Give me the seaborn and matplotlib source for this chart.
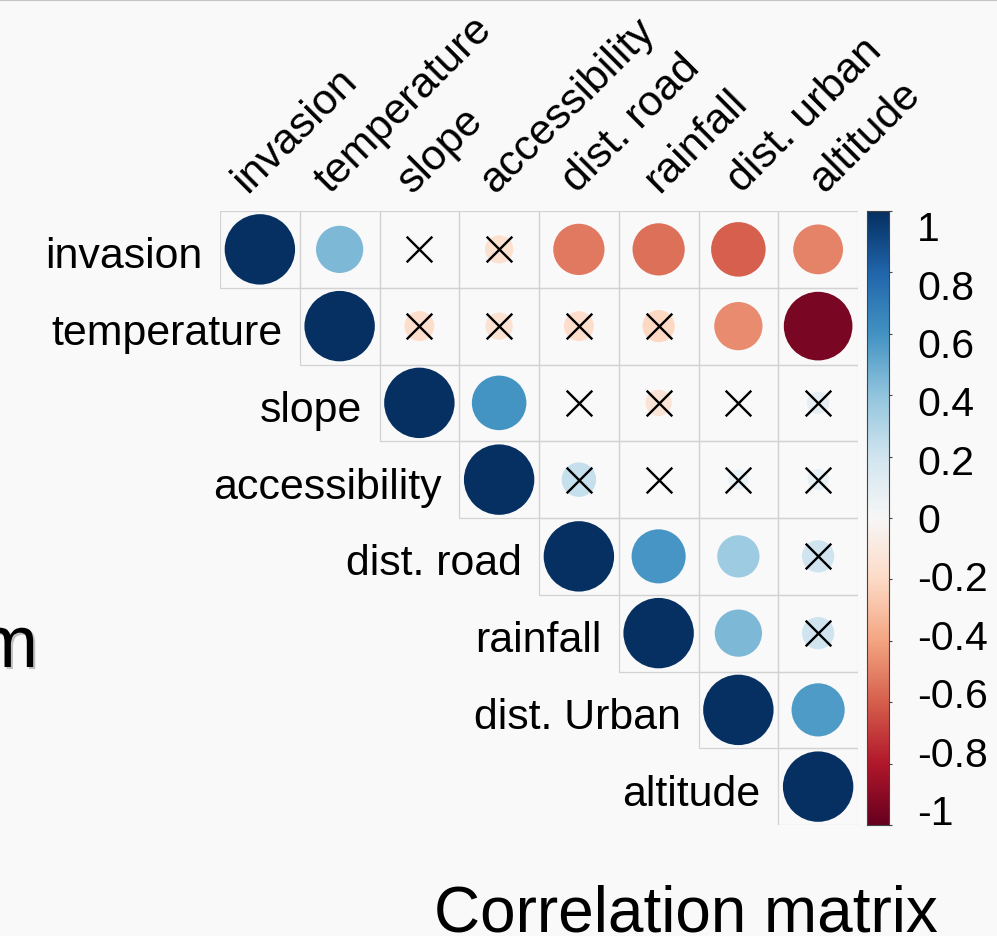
import numpy as np
import pandas as pd
import matplotlib
matplotlib.use("Agg")
import matplotlib.pyplot as plt
import matplotlib.patheffects as pe
from matplotlib.patches import Rectangle
from matplotlib.lines import Line2D
import seaborn as sns

# variable names (rows use "dist. Urban", columns "dist. urban")
row_labels = ["invasion", "temperature", "slope", "accessibility",
              "dist. road", "rainfall", "dist. Urban", "altitude"]
col_labels = ["invasion", "temperature", "slope", "accessibility",
              "dist. road", "rainfall", "dist. urban", "altitude"]

# upper triangle of the correlation matrix, row by row starting at the diagonal
r_invasion = [1.00, 0.45, 0.02, -0.16, -0.53, -0.55, -0.60, -0.50]
r_temperature = [1.00, -0.18, -0.15, -0.18, -0.21, -0.47, -0.95]
r_slope = [1.00, 0.60, 0.02, -0.14, 0.01, 0.10]
r_accessibility = [1.00, 0.24, 0.00, 0.08, 0.09]
r_dist_road = [1.00, 0.59, 0.36, 0.21]
r_rainfall = [1.00, 0.45, 0.21]
r_dist_urban = [1.00, 0.57]
r_altitude = [1.00]
upper = [r_invasion, r_temperature, r_slope, r_accessibility,
         r_dist_road, r_rainfall, r_dist_urban, r_altitude]

# non-significant pairs (drawn with a cross)
insig_pairs = [
    ("invasion", "slope"), ("invasion", "accessibility"),
    ("temperature", "slope"), ("temperature", "accessibility"),
    ("temperature", "dist. road"), ("temperature", "rainfall"),
    ("slope", "dist. road"), ("slope", "rainfall"),
    ("slope", "dist. urban"), ("slope", "altitude"),
    ("accessibility", "dist. road"), ("accessibility", "rainfall"),
    ("accessibility", "dist. urban"), ("accessibility", "altitude"),
    ("dist. road", "altitude"), ("rainfall", "altitude"),
]

cbar_ticks = [1, 0.8, 0.6, 0.4, 0.2, 0, -0.2, -0.4, -0.6, -0.8, -1]
cbar_labels = ["1", "0.8", "0.6", "0.4", "0.2", "0",
               "-0.2", "-0.4", "-0.6", "-0.8", "-1"]

recs = []
for i, vals in enumerate(upper):
    for k, v in enumerate(vals):
        j = i + k
        recs.append({
            "row": i + 1, "col": j + 1, "r": v, "absr": abs(v),
            "insig": (col_labels[i], col_labels[j]) in insig_pairs,
        })
df = pd.DataFrame(recs)

BG = "#f9f9f9"
W, H = 997, 937
sns.set_theme(style="white")
plt.rcParams["font.family"] = ["Liberation Sans", "DejaVu Sans"]

fig = plt.figure(figsize=(W / 100, H / 100), dpi=100, facecolor=BG)

# grid area in pixels: x 220..858, y 212..826
ax = fig.add_axes([220 / W, (H - 826) / H, 638 / W, 614 / H])
ax.set_facecolor("none")
ax.set_xlim(0.5, 8.5)
ax.set_ylim(8.5, 0.5)

for _, c in df.iterrows():
    ax.add_patch(Rectangle((c["col"] - 0.5, c["row"] - 0.5), 1, 1, fill=False,
                           ec="#d2d2d2", lw=0.9, zorder=1))

sns.scatterplot(data=df, x="col", y="row", hue="r", palette="RdBu",
                hue_norm=(-1, 1), size="absr", sizes=(0, 2570), size_norm=(0, 1),
                linewidth=0, legend=False, ax=ax, zorder=2)
sns.scatterplot(data=df[df["insig"]], x="col", y="row", marker="x",
                color="black", s=340, linewidth=1.7, legend=False, ax=ax, zorder=3)
ax.axis("off")

for i, lab in enumerate(row_labels):
    ax.text(i + 1 - 0.5 - 0.22, i + 1 + 0.09, lab, ha="right", va="center",
            fontsize=30.9, color="black", clip_on=False)
# column labels: anchors drift slightly wider than the cells, as in the original
for j, lab in enumerate(col_labels):
    ax.text(j + 1 - 0.16 + 0.034 * j, 0.27, lab, ha="left", va="baseline",
            rotation=45, rotation_mode="anchor", fontsize=30.9, color="black",
            clip_on=False)

# colour legend
cax = fig.add_axes([867 / W, (H - 826) / H, 22 / W, 614 / H])
grad = np.linspace(-1, 1, 256).reshape(-1, 1)
cax.imshow(grad, aspect="auto", cmap="RdBu", vmin=-1, vmax=1,
           origin="lower", extent=[0, 1, -1, 1])
cax.set_xlim(0, 1)
cax.set_ylim(-1, 1)
cax.set_xticks([])
cax.set_yticks(cbar_ticks)
cax.yaxis.tick_right()
cax.tick_params(axis="y", length=2.5, width=0.8, color="#444444",
                labelright=False, labelleft=False, direction="out")
for s in cax.spines.values():
    s.set_color("#444444")
    s.set_linewidth(0.8)
for v, lab in zip(cbar_ticks, cbar_labels):
    cax.text(2.27, v * 0.951 - 0.01, lab, transform=cax.get_yaxis_transform(),
             ha="left", va="center", fontsize=29.5, color="black")

fig.text(434 / W, 1 - 932 / H, "Correlation matrix", fontsize=46,
         ha="left", va="baseline", color="black")
fig.text(38 / W, 1 - 668 / H, "m", fontsize=52.6, ha="right", va="baseline",
         color="black",
         path_effects=[pe.withSimplePatchShadow(offset=(1.5, -1.5),
                                                shadow_rgbFace="#888888", alpha=0.5)])
fig.add_artist(Line2D([0, 1], [1 - 1 / H, 1 - 1 / H], color="#c4c4c4", lw=1.5,
                      transform=fig.transFigure))

fig.savefig("out.png", dpi=100, facecolor=BG)
